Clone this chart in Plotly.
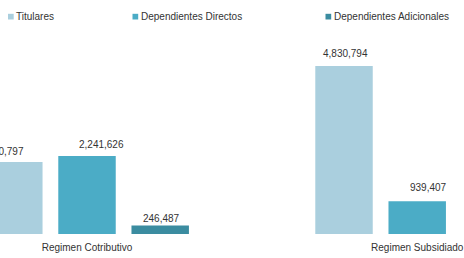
import plotly.graph_objects as go

# ---- data ----
categories = ["Regimen Cotributivo", "Regimen Subsidiado"]
series_names = ["Titulares", "Dependientes Directos", "Dependientes Adicionales"]
titulares = [2070797, 4830794]
dependientes_directos = [2241626, 939407]
dependientes_adicionales = [246487, None]

# ---- styles ----
colors = ["#aacfde", "#4bacc6", "#3b8ca0"]
label_dx = [[-12, 1], [14, 11], [1, 0]]      # px shift of each value label
label_gap = [[7, 9], [8, 10], [3, 0]]        # px gap between bar top and label baseline
FONT = "Liberation Sans, Arial, sans-serif"
TEXT = "#333333"

W, H = 464, 258
OFF = 0                      # page offset of the figure
M_T, M_B = 30, 24
BARGAP, GROUPGAP = 0.335, 0.215
XRANGE = [-0.2635, 1.1417]
YMAX = 5866000

series = [titulares, dependientes_directos, dependientes_adicionales]

fig = go.Figure()
for name, vals, col in zip(series_names, series, colors):
    fig.add_trace(go.Bar(x=categories, y=vals, name=name, marker_color=col,
                         marker_line_width=0, showlegend=False, hoverinfo="skip"))

# value labels
step = (1 - BARGAP) / len(series)
for si, vals in enumerate(series):
    for ci, v in enumerate(vals):
        if v is None:
            continue
        fig.add_annotation(x=ci + (si - (len(series) - 1) / 2) * step, y=v,
                           xref="x", yref="y", text=f"{v:,}", showarrow=False,
                           xanchor="center", yanchor="bottom",
                           xshift=label_dx[si][ci], yshift=label_gap[si][ci] - 4,
                           font=dict(family=FONT, size=10, color=TEXT))

# manual legend (positions in page pixels)
plot_h = H - M_T - M_B
def py(p):
    return (H - M_B - (p - OFF)) / plot_h
def px(p):
    return (p - OFF) / W
legend_x = [8, 132.5, 325.5]
for name, col, lx in zip(series_names, colors, legend_x):
    fig.add_shape(type="rect", xref="paper", yref="paper",
                  x0=px(lx), x1=px(lx + 5.7), y0=py(19.5), y1=py(13.8),
                  fillcolor=col, line_width=0)
    fig.add_annotation(xref="paper", yref="paper", x=px(lx + 7.3), y=py(16.8),
                       text=name, showarrow=False, xanchor="left", yanchor="middle",
                       borderpad=0, font=dict(family=FONT, size=10, color=TEXT))

fig.update_layout(
    width=W, height=H, barmode="group", bargap=BARGAP, bargroupgap=GROUPGAP,
    margin=dict(l=0, r=0, t=M_T, b=M_B),
    paper_bgcolor="white", plot_bgcolor="white",
    font=dict(family=FONT, size=10, color=TEXT),
    xaxis=dict(type="category", range=XRANGE, showgrid=False, zeroline=False,
               showline=False, ticks="", ticklabelstandoff=6, fixedrange=True,
               tickfont=dict(family=FONT, size=10, color=TEXT)),
    yaxis=dict(range=[0, YMAX], visible=False, showgrid=False, zeroline=False,
               fixedrange=True),
)
fig.write_html("out.html", config={"displayModeBar": False, "staticPlot": True},
               post_script="document.body.style.margin='0';document.body.style.overflow='hidden';")
